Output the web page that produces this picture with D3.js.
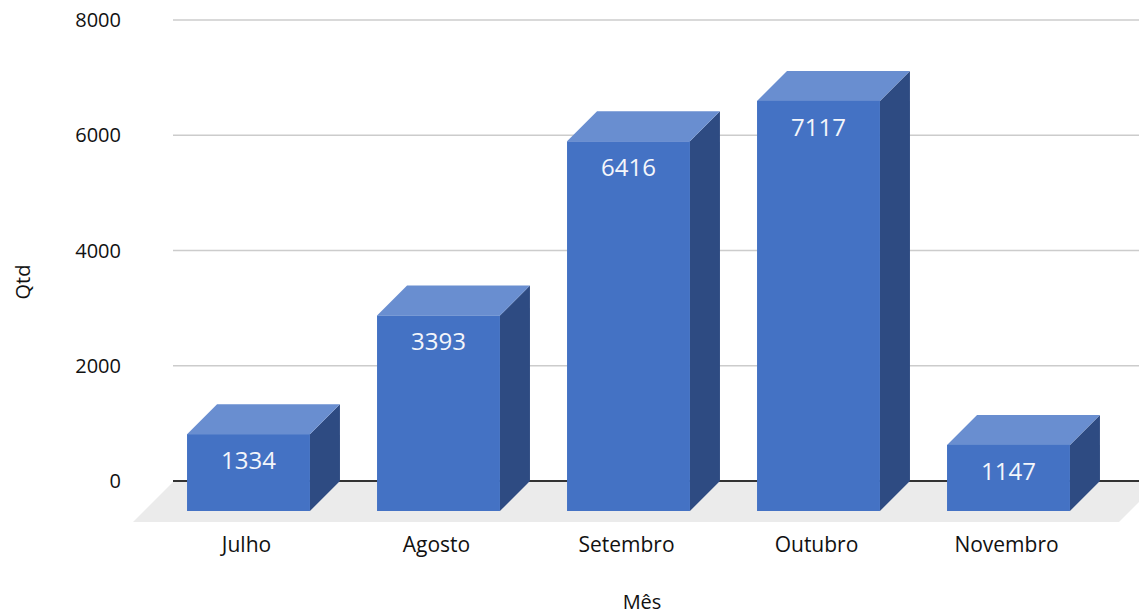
<!DOCTYPE html>
<html>
<head>
<meta charset="utf-8">
<script src="https://cdn.jsdelivr.net/npm/d3@7"></script>
<style>
  body { margin: 0; background: #fff; }
  text { font-family: "Open Sans", sans-serif; }
</style>
</head>
<body>
<svg id="chart" width="1139" height="615"></svg>
<script>
// data
const months = ["Julho", "Agosto", "Setembro", "Outubro", "Novembro"];
const values = [1334, 3393, 6416, 7117, 1147];
const yTicks = [0, 2000, 4000, 6000, 8000];

const svg = d3.select("#chart");

// back plane of the plot
const plotLeft = 173, plotRight = 1139;
const plotTop = 20, plotBottom = 481;
const depth = 30;      // bar depth (offset of the front face)
const floorDepth = 40;

const y = d3.scaleLinear().domain([0, 8000]).range([plotBottom, plotTop]);
const x = d3.scaleBand()
	.domain(months)
	.range([183.5, 1133.5])
	.paddingInner(0.353)
	.paddingOuter(0.1765);

// gridlines
svg.append("g")
	.selectAll("line")
	.data(yTicks.filter(d => d !== 0))
	.join("line")
	.attr("x1", plotLeft)
	.attr("x2", plotRight)
	.attr("y1", d => y(d))
	.attr("y2", d => y(d))
	.attr("stroke", "#cccccc")
	.attr("stroke-width", 1.5);

// floor
const fy = y(0) + 1;
svg.append("path")
	.attr("d", `M${plotLeft},${fy}L${plotRight + 20},${fy}L${plotRight + 20 - floorDepth},${fy + floorDepth}L${plotLeft - floorDepth},${fy + floorDepth}Z`)
	.attr("fill", "#ebebeb");

// zero line
svg.append("line")
	.attr("x1", plotLeft)
	.attr("x2", plotRight)
	.attr("y1", y(0))
	.attr("y2", y(0))
	.attr("stroke", "#333333")
	.attr("stroke-width", 2);

// y tick labels
svg.append("g")
	.selectAll("text")
	.data(yTicks)
	.join("text")
	.attr("x", 121)
	.attr("y", d => y(d) + 7)
	.attr("text-anchor", "end")
	.attr("font-size", 20)
	.attr("fill", "#111")
	.text(d => d);

// bars
const bw = x.bandwidth();
const bars = svg.append("g")
	.selectAll("g")
	.data(months.map((m, i) => ({ month: m, value: values[i] })))
	.join("g");

// right side face
bars.append("path")
	.attr("d", d => {
		const bx = x(d.month) + bw, ty = y(d.value), by = y(0);
		return `M${bx - depth},${ty + depth}L${bx},${ty}L${bx},${by}L${bx - depth},${by + depth}Z`;
	})
	.attr("fill", "#2e4b82");

// top face
bars.append("path")
	.attr("d", d => {
		const bx = x(d.month), ty = y(d.value);
		return `M${bx - depth},${ty + depth}L${bx},${ty}L${bx + bw},${ty}L${bx + bw - depth},${ty + depth}Z`;
	})
	.attr("fill", "#698ed0");

// front face
bars.append("rect")
	.attr("x", d => x(d.month) - depth)
	.attr("y", d => y(d.value) + depth)
	.attr("width", bw)
	.attr("height", d => y(0) - y(d.value))
	.attr("fill", "#4472c4");

// value labels
bars.append("text")
	.attr("x", d => x(d.month) - depth + bw / 2)
	.attr("y", d => y(d.value) + depth + 35)
	.attr("text-anchor", "middle")
	.attr("font-family", "Roboto, sans-serif")
	.attr("font-size", 24)
	.attr("fill", "#f4f6fb")
	.text(d => d.value);

// category labels
svg.append("g")
	.selectAll("text")
	.data(months)
	.join("text")
	.attr("x", d => x(d) - depth + bw / 2 - 2)
	.attr("y", 552)
	.attr("text-anchor", "middle")
	.attr("font-size", 21)
	.attr("fill", "#111")
	.text(d => d);

// axis titles
svg.append("text")
	.attr("x", 642)
	.attr("y", 609)
	.attr("text-anchor", "middle")
	.attr("font-size", 20)
	.attr("fill", "#111")
	.text("Mês");

svg.append("text")
	.attr("transform", "translate(30,282) rotate(-90)")
	.attr("text-anchor", "middle")
	.attr("font-size", 20)
	.attr("fill", "#111")
	.text("Qtd");
</script>
</body>
</html>
